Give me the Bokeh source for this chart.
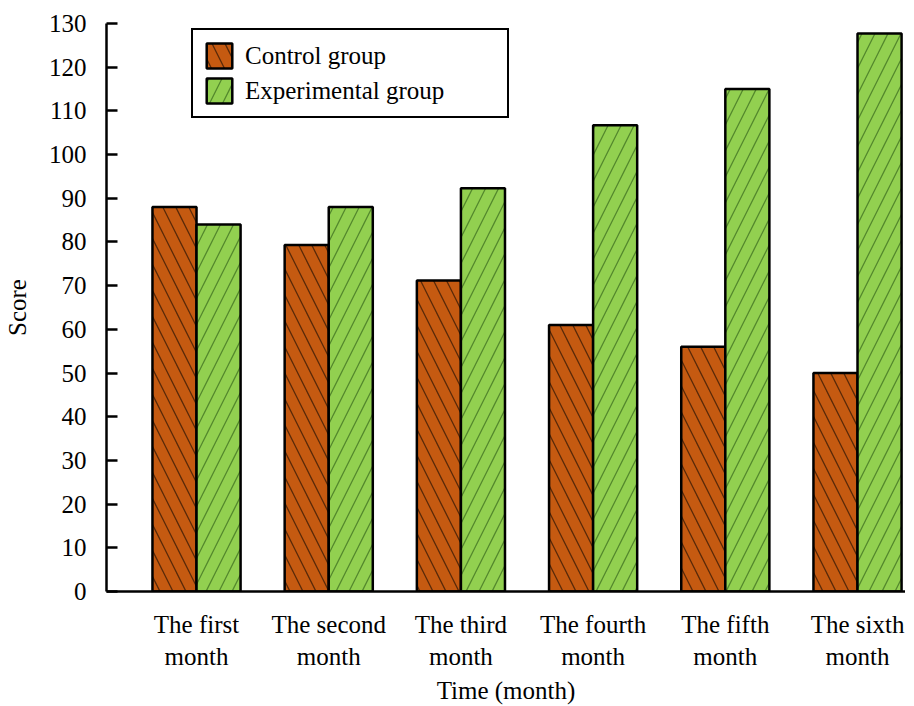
from bokeh.plotting import figure
from bokeh.models import Range1d, FixedTicker, Legend, LegendItem
from bokeh.embed import file_html
from bokeh.resources import INLINE

months = ["The first\nmonth", "The second\nmonth", "The third\nmonth",
          "The fourth\nmonth", "The fifth\nmonth", "The sixth\nmonth"]
control = [88, 79.3, 71.2, 61, 56, 50]
experimental = [84, 88, 92.3, 106.7, 115, 127.7]
y_ticks = list(range(0, 131, 10))

FONT = "Liberation Serif"
FS = "25px"

idx = list(range(len(months)))
x_ctrl = [i - 1/6 for i in idx]
x_exp = [i + 1/6 for i in idx]

p = figure(frame_width=799, frame_height=568, output_backend="svg", toolbar_location=None,
           x_range=Range1d(-0.681, 5.363), y_range=Range1d(0, 130),
           min_border_left=104, min_border_right=0, min_border_top=23, min_border_bottom=0)
p.outline_line_color = None
p.grid.grid_line_color = None
p.background_fill_color = "white"
p.border_fill_color = "white"

r1 = p.vbar(x=x_ctrl, top=control, width=1/3, bottom=0,
            fill_color="#C55A11", line_color="black", line_width=2.5,
            hatch_pattern="\\", hatch_color="black", hatch_alpha=0.55,
            hatch_weight=1.3, hatch_scale=26)
r2 = p.vbar(x=x_exp, top=experimental, width=1/3, bottom=0,
            fill_color="#92D050", line_color="black", line_width=2.5,
            hatch_pattern="/", hatch_color="#1f4d0f", hatch_alpha=0.55,
            hatch_weight=1.3, hatch_scale=26)

# y axis
ya = p.yaxis[0]
ya.ticker = FixedTicker(ticks=y_ticks)
ya.minor_tick_line_color = None
ya.major_tick_in = 11
ya.major_tick_out = 0
ya.major_tick_line_width = 2.5
ya.axis_line_width = 2.5
ya.major_label_text_font = FONT
ya.major_label_text_font_size = FS
ya.major_label_text_color = "black"
ya.major_label_standoff = 20
ya.axis_label = "Score"
ya.axis_label_text_font = FONT
ya.axis_label_text_font_size = FS
ya.axis_label_text_font_style = "normal"
ya.axis_label_text_color = "black"
ya.axis_label_standoff = 15

# x axis
xa = p.xaxis[0]
xa.ticker = FixedTicker(ticks=idx)
xa.major_label_overrides = {i: m for i, m in zip(idx, months)}
xa.major_tick_line_color = None
xa.minor_tick_line_color = None
xa.axis_line_width = 2.5
xa.major_label_text_font = FONT
xa.major_label_text_font_size = FS
xa.major_label_text_color = "black"
xa.major_label_standoff = 13
xa.axis_label = "Time (month)"
xa.axis_label_text_font = FONT
xa.axis_label_text_font_size = FS
xa.axis_label_text_font_style = "normal"
xa.axis_label_text_color = "black"
xa.axis_label_standoff = 4

legend = Legend(items=[LegendItem(label="Control group", renderers=[r1]),
                       LegendItem(label="Experimental group", renderers=[r2])],
                location=(85, 473), orientation="vertical")
legend.label_text_font = FONT
legend.label_text_font_size = FS
legend.label_text_color = "black"
legend.glyph_width = 32
legend.glyph_height = 31
legend.label_standoff = 10
legend.label_width = 252
legend.spacing = 4
legend.padding = 10
legend.margin = 0
legend.border_line_color = "black"
legend.border_line_width = 2.5
legend.border_line_alpha = 1
legend.background_fill_alpha = 1
legend.label_height = 31
p.add_layout(legend)

open("out.html", "w").write(file_html(p, INLINE))
